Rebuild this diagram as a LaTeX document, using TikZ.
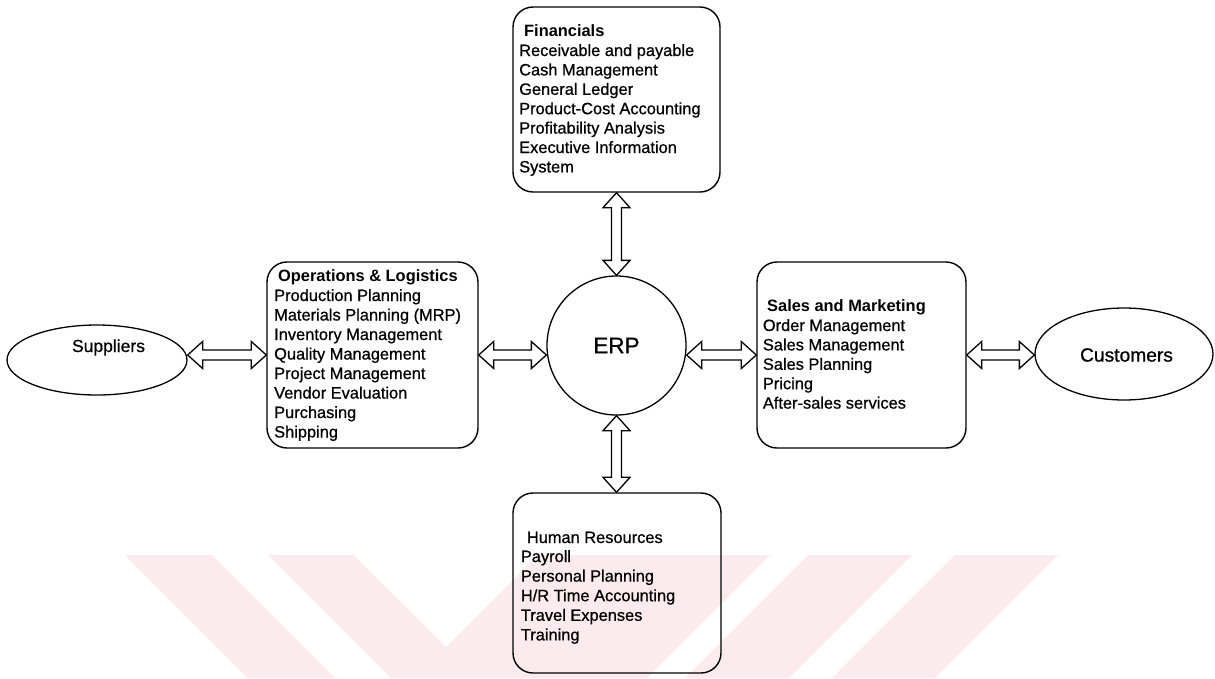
\documentclass[tikz,border=0pt]{standalone}
\usepackage{fontspec}
\setmainfont{Liberation Sans}
\newfontfamily\itmfont[FakeBold=0.7]{Liberation Sans}
\usetikzlibrary{calc,shapes.geometric}
\definecolor{wm}{RGB}{252,235,238}
\def\bahl{15pt}\def\bahh{13.5pt}\def\bash{5pt}
\newcommand\hbarrow[2]{\draw[barrow] let \p1=(#1), \p2=(#2) in
  (\x1,\y1) -- (\x1+\bahl,\y1+\bahh) -- (\x1+\bahl,\y1+\bash) -- (\x2-\bahl,\y1+\bash)
  -- (\x2-\bahl,\y1+\bahh) -- (\x2,\y1) -- (\x2-\bahl,\y1-\bahh) -- (\x2-\bahl,\y1-\bash)
  -- (\x1+\bahl,\y1-\bash) -- (\x1+\bahl,\y1-\bahh) -- cycle;}
\newcommand\vbarrow[2]{\draw[barrow] let \p1=(#1), \p2=(#2) in
  (\x1,\y1) -- (\x1+\bahh,\y1-\bahl) -- (\x1+\bash,\y1-\bahl) -- (\x1+\bash,\y2+\bahl)
  -- (\x1+\bahh,\y2+\bahl) -- (\x1,\y2) -- (\x1-\bahh,\y2+\bahl) -- (\x1-\bash,\y2+\bahl)
  -- (\x1-\bash,\y1-\bahl) -- (\x1-\bahh,\y1-\bahl) -- cycle;}
\begin{document}
\begin{tikzpicture}[x=1pt,y=-1pt,
  box/.style={draw, line width=1.4pt, rounded corners=20pt, inner sep=0pt},
  itm/.style={anchor=base west, inner sep=0pt, font=\fontsize{16.4}{19.5}\itmfont},
  hdr/.style={anchor=base west, inner sep=0pt, font=\fontsize{16.4}{19.5}\selectfont\bfseries},
  barrow/.style={draw, line width=1.3pt, line join=miter},
  oval/.style={ellipse, draw, line width=1.3pt, inner sep=0pt}]
\useasboundingbox (0,0) rectangle (1215,678);
% watermark
\fill[wm] (125,555) -- (212,555) -- (335,678) -- (248,678) -- cycle;
\fill[wm] (268,555) -- (353,555) -- (446,647) -- (538,555) -- (770,555) -- (647,678) -- (391,678) -- cycle;
\fill[wm] (808,555) -- (912,555) -- (789,678) -- (685,678) -- cycle;
\fill[wm] (955,555) -- (1058,555) -- (935,678) -- (832,678) -- cycle;
% main nodes
\node[box, minimum width=207pt, minimum height=185pt] (fin) at (616.5,99.5) {};
\node[box, minimum width=211pt, minimum height=186pt] (ops) at (372.5,355) {};
\node[box, minimum width=209pt, minimum height=186pt] (sales) at (861.5,355) {};
\node[box, minimum width=208pt, minimum height=180pt] (hr) at (617,583) {};
\node[circle, draw, line width=1.3pt, minimum size=139pt, inner sep=0pt,
  font=\fontsize{22.5}{27}\itmfont] (erp) at (616.5,345.5) {ERP};
\node[oval, minimum width=180pt, minimum height=70pt] (sup) at (97,360) {};
\node[anchor=base, inner sep=0pt, font=\fontsize{17.5}{21}\itmfont] (suptxt) at (108.5,352) {Suppliers};
\node[oval, minimum width=178pt, minimum height=92pt] (cust) at (1124,354) {};
\node[inner sep=0pt, font=\fontsize{19.2}{23}\itmfont] (custtxt) at (1126.5,355) {Customers};
% texts
\node[hdr] (fin-h) at (524,36.5) {Financials};
\foreach \t [count=\i from 0] in {Receivable and payable, Cash Management, General Ledger,
  Product-Cost Accounting, Profitability Analysis, Executive Information, System}
  \node[itm] (fin-\i) at (519,{56+19.4*\i}) {\t};
\node[hdr] (ops-h) at (278,281) {Operations \& Logistics};
\foreach \t [count=\i from 0] in {Production Planning, {Materials Planning (MRP)},
  Inventory Management, Quality Management, Project Management, Vendor Evaluation,
  Purchasing, Shipping}
  \node[itm] (ops-\i) at (274,{301+19.5*\i}) {\t};
\node[hdr] (sales-h) at (767,311) {Sales and Marketing};
\foreach \t [count=\i from 0] in {Order Management, Sales Management, Sales Planning,
  Pricing, After-sales services}
  \node[itm] (sales-\i) at (762.7,{331+19.4*\i}) {\t};
\node[itm] (hr-h) at (526.7,543) {Human Resources};
\foreach \t [count=\i from 0] in {Payroll, Personal Planning, H/R Time Accounting,
  Travel Expenses, Training}
  \node[itm] (hr-\i) at (520.7,{562+19.6*\i}) {\t};
% connectors
\hbarrow{ops.west -| sup.east}{ops.west}
\hbarrow{ops.east}{ops.east -| erp.west}
\hbarrow{sales.west -| erp.east}{sales.west}
\hbarrow{sales.east}{sales.east -| cust.west}
\vbarrow{fin.south}{erp.north}
\vbarrow{erp.south}{hr.north}
\end{tikzpicture}
\end{document}
